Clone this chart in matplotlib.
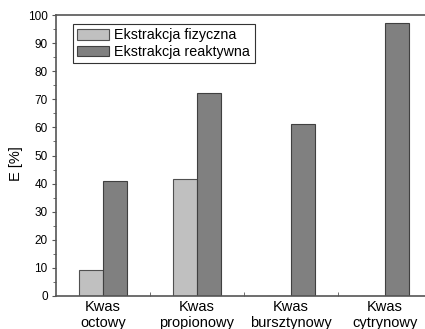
import matplotlib
matplotlib.use("Agg")
import matplotlib.pyplot as plt
import numpy as np
from matplotlib.ticker import MultipleLocator, FixedLocator

categories = ["Kwas\noctowy", "Kwas\npropionowy", "Kwas\nbursztynowy", "Kwas\ncytrynowy"]
fizyczna = [9.2, 41.5, 0, 0]
reaktywna = [40.8, 72.3, 61.2, 97.0]
series_names = ["Ekstrakcja fizyczna", "Ekstrakcja reaktywna"]

plt.rcParams['font.family'] = ['Liberation Sans', 'DejaVu Sans']

fig = plt.figure(figsize=(4.25, 3.29), dpi=100)
ax = fig.add_axes([56 / 425, 33 / 329, 376 / 425, 281 / 329])

x = np.arange(len(categories))
w = 0.255
ax.bar(x - 0.128, fizyczna, w, color="#c0c0c0", edgecolor="#505050", linewidth=0.8, label=series_names[0])
ax.bar(x + 0.128, reaktywna, w, color="#808080", edgecolor="#404040", linewidth=0.8, label=series_names[1])

ax.set_xlim(-0.5, 3.5)
ax.set_ylim(0, 100)
ax.yaxis.set_major_locator(MultipleLocator(10))
ax.yaxis.set_minor_locator(MultipleLocator(5))
ax.set_xticks(x)
ax.set_xticklabels(categories, fontsize=10.5, linespacing=1.2)
ax.tick_params(axis='x', length=0, pad=3)
ax.xaxis.set_minor_locator(FixedLocator([0.5, 1.5, 2.5]))
ax.tick_params(axis='x', which='minor', direction='in', length=3, color="#555555")
ax.tick_params(axis='y', which='major', direction='out', length=3, labelsize=8.5, color="#555555", pad=3)
ax.tick_params(axis='y', which='minor', direction='out', length=2, color="#555555")
ax.set_ylabel("E [%]", fontsize=10.5)
ax.yaxis.set_label_coords(-0.088, 0.47)

for s in ['left', 'bottom', 'top']:
    ax.spines[s].set_color("#555555")
    ax.spines[s].set_linewidth(1.2)
ax.spines['right'].set_visible(False)

leg = ax.legend(loc="upper left", bbox_to_anchor=(0.045, 0.968), fontsize=10.3, frameon=True,
                fancybox=False, edgecolor="#333333", framealpha=1, borderaxespad=0,
                handlelength=2.2, handleheight=0.75, borderpad=0.3, labelspacing=0.2,
                handletextpad=0.4)
leg.get_frame().set_linewidth(0.8)

fig.savefig("out.png", dpi=100)
